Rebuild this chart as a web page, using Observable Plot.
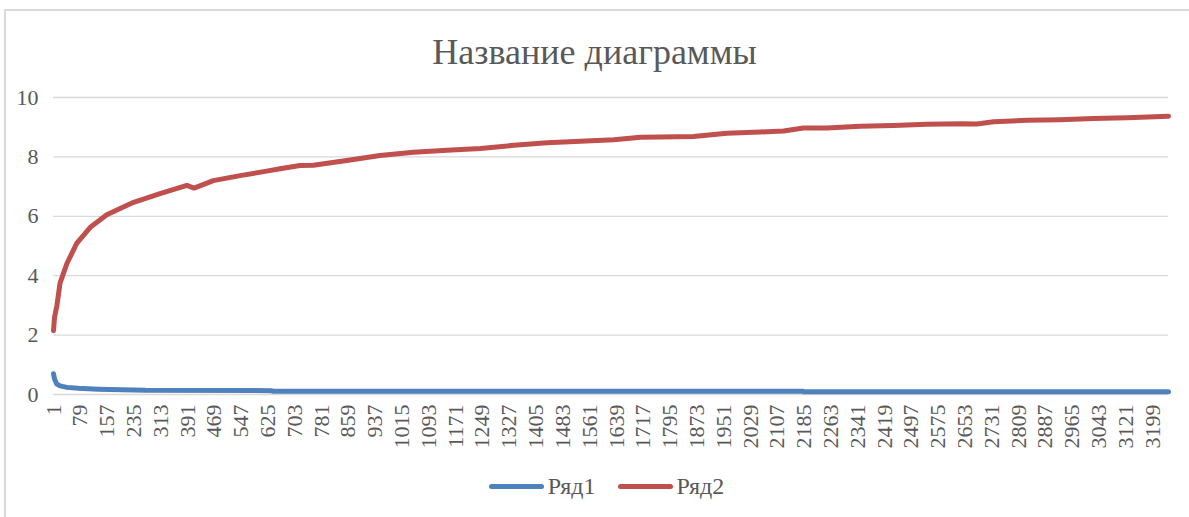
<!DOCTYPE html>
<html><head><meta charset="utf-8">
<script src="https://cdn.jsdelivr.net/npm/d3@7"></script>
<script src="https://cdn.jsdelivr.net/npm/@observablehq/plot@0.6"></script>
<style>
body{margin:0;background:#fff;}
#wrap{position:relative;width:1189px;height:517px;overflow:hidden;font-family:"Liberation Serif","DejaVu Serif",serif;background:#fff;}
#frame{position:absolute;left:4px;top:9px;width:1200px;height:520px;border-top:2px solid #d9d9d9;border-left:2px solid #d9d9d9;}
#title{position:absolute;left:0;width:1189px;top:30px;text-align:center;font-size:36px;line-height:44px;color:#595959;}
#chart{position:absolute;left:0;top:0;}
#legend{position:absolute;left:12px;width:1189px;top:471px;height:30px;display:flex;justify-content:center;align-items:center;font-size:24px;color:#595959;}
.item{display:flex;align-items:center;margin:0 11px;}
.sw{width:55px;height:5px;border-radius:3px;margin-right:4px;}
</style></head>
<body>
<div id="wrap">
  <div id="frame"></div>
  <div id="chart"></div>
  <div id="title">Название диаграммы</div>
  <div id="legend"></div>
</div>
<script>
// Category count on the x axis
const N = 3245;
// Tick labels (every 78th category)
const xTickLabels = [1,79,157,235,313,391,469,547,625,703,781,859,937,1015,1093,1171,1249,1327,1405,1483,1561,1639,1717,1795,1873,1951,2029,2107,2185,2263,2341,2419,2497,2575,2653,2731,2809,2887,2965,3043,3121,3199];
const yTicks = [0,2,4,6,8,10];

// Series names and colours
const seriesNames = ["Ряд1","Ряд2"];
const seriesColors = ["#4f81bd","#c0504d"];

// Ряд1
const s1Index = [1,4,10,20,40,73,131,268,634,640,2180,2186,3245];
const s1Value = [0.70,0.52,0.36,0.29,0.24,0.21,0.18,0.14,0.13,0.11,0.11,0.09,0.09];

// Ряд2
const s2Index = [1,4,11,20,40,59,69,108,156,234,311,389,410,466,544,621,660,718,757,854,951,1048,1146,1243,1340,1437,1534,1631,1709,1766,1863,1960,2057,2125,2183,2251,2348,2445,2542,2639,2688,2736,2833,2930,3027,3124,3245];
const s2Value = [2.15,2.6,3.0,3.75,4.41,4.86,5.1,5.63,6.05,6.47,6.76,7.04,6.95,7.2,7.37,7.52,7.6,7.71,7.72,7.88,8.05,8.16,8.22,8.28,8.39,8.48,8.53,8.58,8.66,8.67,8.69,8.8,8.84,8.87,8.97,8.97,9.03,9.06,9.1,9.12,9.11,9.18,9.23,9.25,9.29,9.32,9.37];

const rows = [
  ...s1Index.map((i,k)=>({i, v:s1Value[k], s:seriesNames[0]})),
  ...s2Index.map((i,k)=>({i, v:s2Value[k], s:seriesNames[1]}))
];

const font = '"Liberation Serif","DejaVu Serif",serif';
const chart = Plot.plot({
  width:1189, height:517,
  marginTop:97, marginBottom:123, marginLeft:53, marginRight:21,
  style:{fontFamily:font, fontSize:"22px", color:"#595959", background:"transparent", overflow:"visible"},
  x:{type:"linear", domain:[1,N], axis:null},
  y:{domain:[0,10], axis:null},
  color:{domain:seriesNames, range:seriesColors},
  marks:[
    Plot.gridY(yTicks,{stroke:"#d9d9d9", strokeOpacity:1, strokeWidth:1.3}),
    Plot.axisY(yTicks,{label:null, tickSize:0, tickPadding:15, fontSize:22, fill:"#595959", tickFormat:d=>String(d)}),
    Plot.axisX(xTickLabels,{label:null, tickSize:0, tickPadding:10, tickRotate:-90, fontSize:22, fill:"#595959", tickFormat:d=>String(d)}),
    Plot.line(rows,{x:"i", y:"v", z:"s", stroke:"s", strokeWidth:5, strokeLinecap:"round", strokeLinejoin:"round"})
  ]
});
document.getElementById("chart").appendChild(chart);

const legend = document.getElementById("legend");
seriesNames.forEach((n,k)=>{
  const it = document.createElement("div"); it.className="item";
  const sw = document.createElement("div"); sw.className="sw"; sw.style.background=seriesColors[k];
  const tx = document.createElement("span"); tx.textContent=n;
  it.appendChild(sw); it.appendChild(tx); legend.appendChild(it);
});
</script>
</body></html>
